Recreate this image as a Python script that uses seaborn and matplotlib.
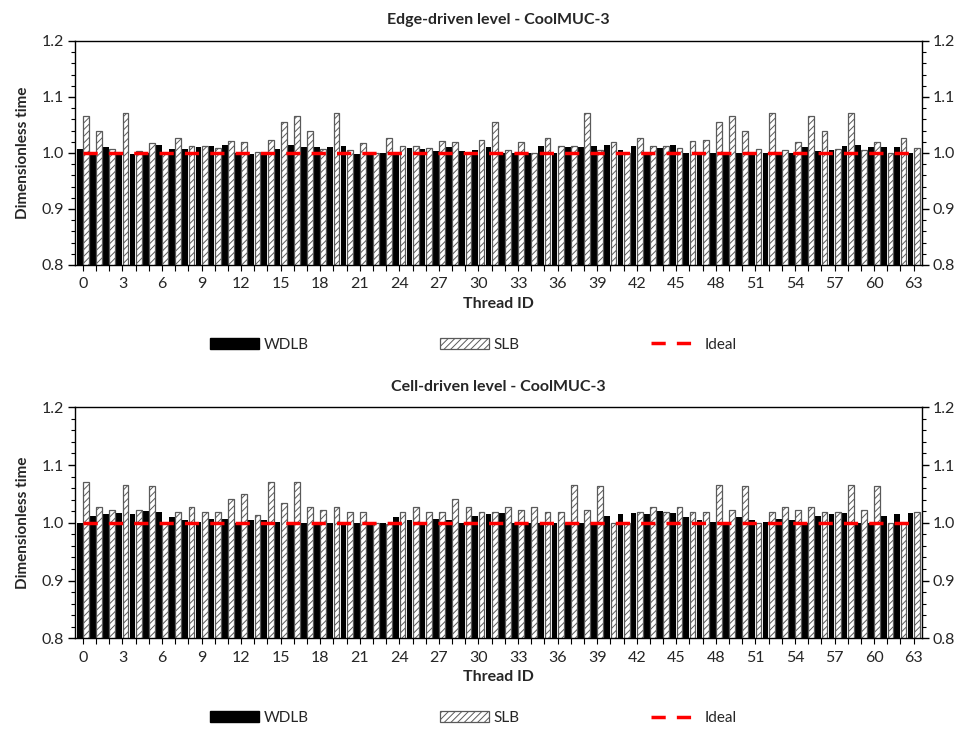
import matplotlib
matplotlib.use("Agg")
import numpy as np
import pandas as pd
import seaborn as sns
import matplotlib.pyplot as plt
from matplotlib.patches import Patch
from matplotlib.lines import Line2D
from matplotlib.ticker import MultipleLocator, FormatStrFormatter

# ---------------- data ----------------
threads = list(range(64))

edge_wdlb = [1.007, 1.000, 1.010, 1.000, 0.999, 1.000, 1.015, 1.007, 1.007, 1.010,
             1.013, 1.015, 1.000, 0.999, 1.000, 1.008, 1.015, 1.010, 1.010, 1.010,
             1.013, 0.999, 1.000, 1.000, 1.000, 1.009, 1.007, 1.004, 1.010, 1.004,
             1.005, 1.010, 1.000, 1.000, 1.000, 1.012, 1.000, 1.010, 1.011, 1.013,
             1.015, 1.005, 1.012, 1.000, 1.009, 1.015, 1.000, 1.000, 1.000, 1.000,
             1.000, 1.000, 1.000, 1.000, 1.000, 1.010, 1.004, 1.005, 1.013, 1.015,
             1.010, 1.010, 1.011, 1.000]
edge_slb = [1.066, 1.040, 1.007, 1.071, 1.004, 1.018, 1.000, 1.026, 1.013, 1.013,
            1.009, 1.021, 1.019, 1.001, 1.023, 1.056, 1.066, 1.040, 1.007, 1.071,
            1.005, 1.018, 1.000, 1.026, 1.013, 1.013, 1.009, 1.021, 1.019, 1.000,
            1.023, 1.056, 1.005, 1.019, 1.000, 1.026, 1.013, 1.013, 1.071, 1.005,
            1.019, 1.000, 1.026, 1.013, 1.013, 1.009, 1.021, 1.023, 1.056, 1.066,
            1.040, 1.007, 1.071, 1.005, 1.019, 1.066, 1.040, 1.007, 1.071, 1.005,
            1.019, 1.000, 1.026, 1.009]
cell_wdlb = [1.000, 1.012, 1.0145, 1.017, 1.0145, 1.020, 1.018, 1.010, 1.005, 1.002,
             1.007, 1.006, 1.000, 1.005, 1.004, 1.002, 1.000, 1.000, 1.000, 1.000,
             1.000, 1.000, 1.000, 1.000, 1.010, 1.005, 1.000, 1.007, 1.005, 1.000,
             1.012, 1.0145, 1.017, 1.000, 1.000, 1.000, 1.000, 1.000, 1.000, 1.000,
             1.012, 1.0145, 1.017, 1.0145, 1.020, 1.017, 1.010, 1.005, 1.002, 1.000,
             1.010, 1.005, 1.002, 1.007, 1.005, 1.000, 1.012, 1.0145, 1.017, 1.000,
             1.000, 1.012, 1.0145, 1.017]
cell_slb = [1.070, 1.028, 1.023, 1.065, 1.023, 1.063, 1.000, 1.019, 1.028, 1.019,
            1.019, 1.041, 1.049, 1.013, 1.070, 1.035, 1.070, 1.027, 1.023, 1.028,
            1.019, 1.019, 1.000, 0.998, 1.019, 1.028, 1.019, 1.019, 1.041, 1.028,
            1.019, 1.019, 1.028, 1.023, 1.028, 1.019, 1.019, 1.065, 1.023, 1.063,
            1.000, 1.000, 1.019, 1.028, 1.019, 1.028, 1.019, 1.019, 1.065, 1.023,
            1.063, 1.000, 1.019, 1.028, 1.023, 1.028, 1.019, 1.019, 1.065, 1.023,
            1.063, 1.000, 1.000, 1.019]
ideal = [1.0] * 64

series_names = ["WDLB", "SLB", "Ideal"]
titles = ["Edge-driven level - CoolMUC-3", "Cell-driven level - CoolMUC-3"]
xtick_labels = [str(t) if t % 3 == 0 else "" for t in threads]
ytick_values = [0.8, 0.9, 1.0, 1.1, 1.2]

# ---------------- style ----------------
sns.set_theme(style="white")
plt.rcParams["font.family"] = ["Lato", "DejaVu Sans"]
plt.rcParams["hatch.linewidth"] = 0.7

FS = 11
DASH = (0, (4.1, 3.2))

fig = plt.figure(figsize=(9.66, 7.32), dpi=100)
ax_top = fig.add_axes([0.0776, 0.638, 0.8764, 0.306])
ax_bot = fig.add_axes([0.0776, 0.128, 0.8764, 0.3156])


def panel(ax, wdlb, slb, title):
    df = pd.DataFrame({
        "Thread": threads + threads,
        "Time": wdlb + slb,
        "Series": [series_names[0]] * len(threads) + [series_names[1]] * len(threads),
    })
    sns.barplot(data=df, x="Thread", y="Time", hue="Series",
                hue_order=series_names[:2],
                palette={series_names[0]: "black", series_names[1]: "white"},
                width=0.95, gap=0.08, saturation=1, errorbar=None,
                legend=False, ax=ax)
    for bar in ax.containers[0]:
        bar.set_edgecolor("black")
        bar.set_linewidth(0)
    for bar in ax.containers[1]:
        bar.set_edgecolor("#5a5a5a")
        bar.set_hatch("/////")
        bar.set_linewidth(0.9)
    sns.lineplot(x=threads, y=ideal, ax=ax, color="#ff0000", linewidth=2.5,
                 linestyle=DASH, dash_capstyle="butt", legend=False, zorder=5)

    ax.set_xlim(-0.6, 63.6)
    ax.set_ylim(0.8, 1.2)
    ax.set_xticks(threads)
    ax.set_xticklabels(xtick_labels, fontsize=FS + 0.5)
    ax.set_yticks(ytick_values)
    ax.yaxis.set_major_formatter(FormatStrFormatter("%.1f"))
    ax.yaxis.set_minor_locator(MultipleLocator(0.02))
    ax.tick_params(axis="y", which="major", left=True, right=True, labelright=True,
                   direction="out", length=5, width=1, color="black",
                   labelsize=FS + 0.5, pad=3)
    ax.tick_params(axis="y", which="minor", left=True, right=True,
                   direction="out", length=3, width=0.8, color="black")
    ax.tick_params(axis="x", which="major", bottom=True, direction="out",
                   length=4, width=0.8, color="black", labelsize=FS + 0.5, pad=5)
    for sp in ax.spines.values():
        sp.set_visible(True)
        sp.set_color("black")
        sp.set_linewidth(1.0)
    ax.set_xlabel("Thread ID", fontsize=FS + 0.5, fontweight="bold", labelpad=4)
    ax.set_ylabel("Dimensionless time", fontsize=FS, fontweight="bold", labelpad=8)
    ax.set_title(title, fontsize=FS + 0.5, fontweight="bold", pad=12)
    ax.grid(False)


panel(ax_top, edge_wdlb, edge_slb, titles[0])
panel(ax_bot, cell_wdlb, cell_slb, titles[1])

handles = [
    Patch(facecolor="black", edgecolor="black"),
    Patch(facecolor="white", edgecolor="#5a5a5a", hatch="/////", linewidth=0.9),
    Line2D([0], [0], color="#ff0000", linewidth=2.5, linestyle=DASH, dash_capstyle="butt"),
]
for ycen in (0.529, 0.019):
    fig.legend(handles, series_names, loc="center", bbox_to_anchor=(0.49, ycen),
               ncol=3, frameon=False, fontsize=FS, handlelength=3.2,
               handleheight=0.75, handletextpad=0.3, columnspacing=8.6,
               borderpad=0.1)

fig.savefig("out.png", dpi=100)
